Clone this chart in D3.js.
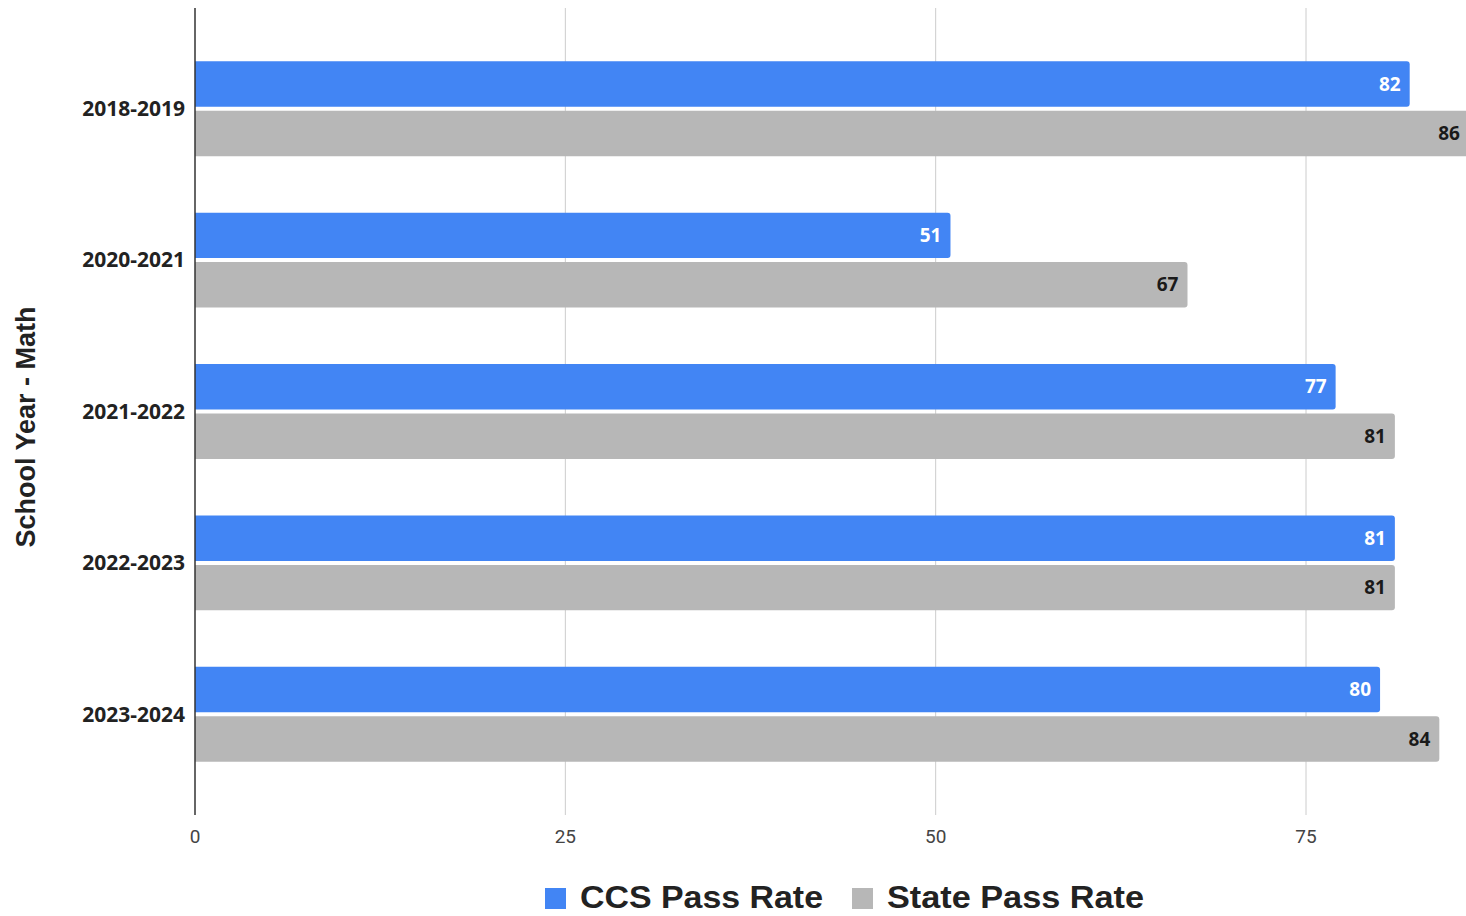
<!DOCTYPE html>
<html lang="en">
<head>
  <meta charset="UTF-8">
  <title>School Year - Math</title>
  <script src="https://d3js.org/d3.v7.min.js"></script>
  <style>
    body { margin: 0; background: #fff; }
  </style>
</head>
<body>
  <svg width="1466" height="916"></svg>
  <script>
    const years = ["2018-2019", "2020-2021", "2021-2022", "2022-2023", "2023-2024"];
    const seriesNames = ["CCS Pass Rate", "State Pass Rate"];
    const ccsValues = [82, 51, 77, 81, 80];
    const stateValues = [86, 67, 81, 81, 84];
    const xTicks = [0, 25, 50, 75];
    const colors = ["#4285f4", "#b7b7b7"];
    const labelColors = ["#ffffff", "#1a1a1a"];

    const data = years.map((year, i) => ({
      year,
      values: [ccsValues[i], stateValues[i]]
    }));

    const svg = d3.select("svg");
    const plotTop = 8, plotBottom = 815;

    // Scales
    const x = d3.scaleLinear().domain([0, 75]).range([195, 1306]);
    const y = d3.scaleBand()
      .domain(years)
      .range([33, 790])
      .paddingInner(0.373)
      .paddingOuter(0.1865);
    const ySub = d3.scaleBand()
      .domain(d3.range(seriesNames.length))
      .range([0, y.bandwidth()])
      .paddingInner(0.08);

    // Gridlines
    svg.append("g")
      .selectAll("line")
      .data(xTicks.filter(t => t !== 0))
      .join("line")
      .attr("x1", d => x(d)).attr("x2", d => x(d))
      .attr("y1", plotTop).attr("y2", plotBottom)
      .attr("stroke", "#cccccc")
      .attr("stroke-width", 1);

    // Bars
    const groups = svg.append("g")
      .selectAll("g")
      .data(data)
      .join("g")
      .attr("transform", d => `translate(0,${y(d.year)})`);

    groups.selectAll("path")
      .data(d => d.values.map((v, i) => ({v, i})))
      .join("path")
      .attr("fill", d => colors[d.i])
      .attr("d", d => {
        const x0 = x(0), x1 = x(d.v), y0 = ySub(d.i), h = ySub.bandwidth(), r = 3;
        return `M${x0},${y0}H${x1 - r}Q${x1},${y0} ${x1},${y0 + r}V${y0 + h - r}Q${x1},${y0 + h} ${x1 - r},${y0 + h}H${x0}Z`;
      });

    groups.selectAll("text")
      .data(d => d.values.map((v, i) => ({v, i})))
      .join("text")
      .attr("x", d => x(d.v) - 9)
      .attr("y", d => ySub(d.i) + ySub.bandwidth() / 2)
      .attr("dy", "0.35em")
      .attr("text-anchor", "end")
      .attr("font-family", "'Open Sans', sans-serif")
      .attr("font-weight", "bold")
      .attr("font-size", 19)
      .attr("fill", d => labelColors[d.i])
      .text(d => d.v);

    // Baseline axis
    svg.append("line")
      .attr("x1", x(0)).attr("x2", x(0))
      .attr("y1", plotTop).attr("y2", plotBottom)
      .attr("stroke", "#333333")
      .attr("stroke-width", 1.5);

    // X tick labels
    svg.append("g")
      .selectAll("text")
      .data(xTicks)
      .join("text")
      .attr("x", d => x(d))
      .attr("y", 836)
      .attr("dy", "0.35em")
      .attr("text-anchor", "middle")
      .attr("font-family", "Roboto, sans-serif")
      .attr("font-size", 19)
      .attr("fill", "#444444")
      .text(d => d);

    // Y category labels
    svg.append("g")
      .selectAll("text")
      .data(years)
      .join("text")
      .attr("x", 185)
      .attr("y", d => y(d) + y.bandwidth() / 2)
      .attr("dy", "0.35em")
      .attr("text-anchor", "end")
      .attr("font-family", "'Open Sans', sans-serif")
      .attr("font-weight", "bold")
      .attr("font-size", 21)
      .attr("fill", "#222222")
      .text(d => d);

    // Y axis title
    svg.append("text")
      .attr("transform", "translate(26,427) rotate(-90)")
      .attr("dy", "0.35em")
      .attr("text-anchor", "middle")
      .attr("font-family", "'Liberation Sans', Arial, sans-serif")
      .attr("font-weight", "bold")
      .attr("font-size", 27)
      .attr("fill", "#222222")
      .text("School Year - Math");

    // Legend
    const legendX = [545, 852];
    const legend = svg.append("g")
      .selectAll("g")
      .data(seriesNames)
      .join("g")
      .attr("transform", (d, i) => `translate(${legendX[i]},888)`);
    legend.append("rect")
      .attr("width", 21).attr("height", 21)
      .attr("fill", (d, i) => colors[i]);
    legend.append("text")
      .attr("x", 35)
      .attr("y", 20)
      .attr("font-family", "'Liberation Sans', Arial, sans-serif")
      .attr("font-weight", "bold")
      .attr("font-size", 32)
      .attr("textLength", (d, i) => [243, 257][i])
      .attr("lengthAdjust", "spacingAndGlyphs")
      .attr("fill", "#222222")
      .text(d => d);
  </script>
</body>
</html>
